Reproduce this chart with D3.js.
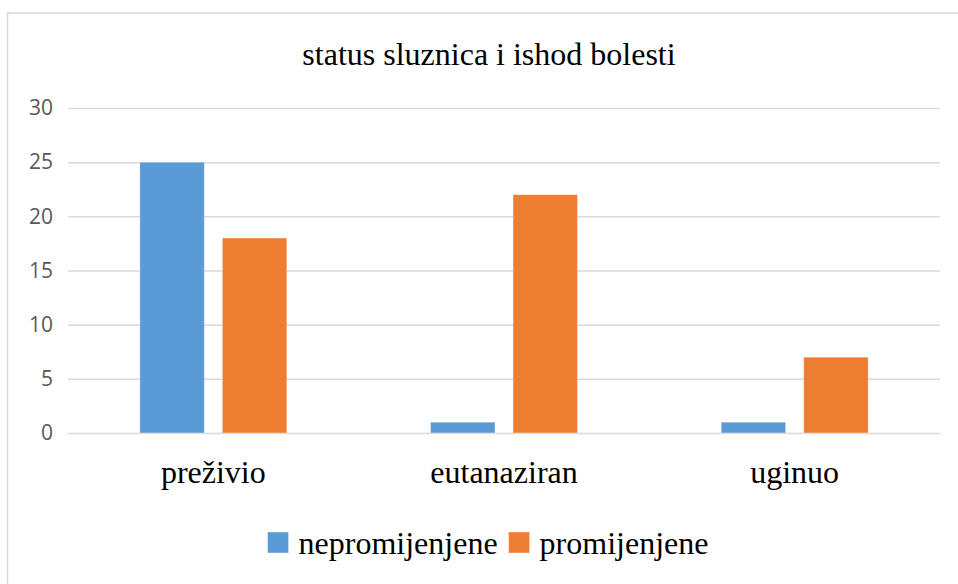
<!DOCTYPE html>
<html><head><meta charset="utf-8">
<script src="https://cdn.jsdelivr.net/npm/d3@7"></script>
<style>html,body{margin:0;padding:0;background:#fff;}</style>
</head><body>
<svg id="c" width="958" height="584"></svg>
<script>
const title = "status sluznica i ishod bolesti";
const categories = ["preživio", "eutanaziran", "uginuo"];
const seriesNames = ["nepromijenjene", "promijenjene"];
const nepromijenjene = [25, 1, 1];
const promijenjene = [18, 22, 7];
const yTicks = [0, 5, 10, 15, 20, 25, 30];
const colors = ["#5b9bd5", "#ed7d31"];

const seriesValues = [nepromijenjene, promijenjene];
const svg = d3.select("#c");
const serif = "'Liberation Serif','Times New Roman',serif";
const sans = "'Open Sans','Segoe UI',sans-serif";

// chart border
svg.append("rect").attr("x", 7.5).attr("y", 13).attr("width", 960).attr("height", 600)
  .attr("fill", "none").attr("stroke", "#d9d9d9").attr("stroke-width", 1.5);

const pL = 68, pR = 940, pT = 108, pB = 433;
const y = d3.scaleLinear().domain([0, 30]).range([pB, pT]);
const x0 = d3.scaleBand().domain(categories).range([pL, pR]).padding(0);
const x1 = d3.scaleBand().domain(seriesNames).paddingInner(0.218).paddingOuter(0).range([0, 147]);

// gridlines via axis
const yAxis = d3.axisLeft(y).tickValues(yTicks).tickSize(-(pR - pL)).tickPadding(15);
const gy = svg.append("g").attr("transform", `translate(${pL},0)`).call(yAxis);
gy.select(".domain").remove();
gy.selectAll(".tick line").attr("stroke", "#d9d9d9").attr("stroke-width", 1.5);
gy.selectAll(".tick text").attr("fill", "#595959").style("font-family", sans).style("font-size", "21px");

// bars
const groups = svg.append("g").selectAll("g").data(categories).join("g")
  .attr("transform", d => `translate(${x0(d) + x0.bandwidth() / 2 - 73.5},0)`);
groups.each(function(cat, ci) {
  d3.select(this).selectAll("rect").data(seriesNames).join("rect")
    .attr("x", s => x1(s))
    .attr("width", x1.bandwidth())
    .attr("y", (s, si) => y(seriesValues[si][ci]))
    .attr("height", (s, si) => pB - y(seriesValues[si][ci]))
    .attr("fill", (s, si) => colors[si])
    .attr("stroke", "#fff").attr("stroke-opacity", 0.4).attr("stroke-width", 1);
});

// category labels
const xAxis = d3.axisBottom(x0).tickSize(0).tickPadding(0);
const gx = svg.append("g").attr("transform", `translate(0,${pB})`).call(xAxis);
gx.select(".domain").remove();
gx.selectAll(".tick text").attr("fill", "#000").attr("dy", null).attr("y", 50)
  .style("font-family", serif).style("font-size", "32px");

// title
svg.append("text").attr("x", 489).attr("y", 65).attr("text-anchor", "middle")
  .style("font-family", serif).style("font-size", "32px").attr("fill", "#000").text(title);

// legend
const lg = svg.append("g");
let lx = 0;
seriesNames.forEach((s, i) => {
  lg.append("rect").attr("x", lx).attr("y", 532).attr("width", 21).attr("height", 21)
    .attr("fill", colors[i]).attr("stroke", "#fff").attr("stroke-opacity", 0.4);
  const t = lg.append("text").attr("x", lx + 31).attr("y", 554)
    .style("font-family", serif).style("font-size", "32px").attr("fill", "#000").text(s);
  lx += 31 + t.node().getComputedTextLength() + 11;
});
const lw = lx - 11;
lg.attr("transform", `translate(${488 - lw / 2},0)`);
</script>
</body></html>
